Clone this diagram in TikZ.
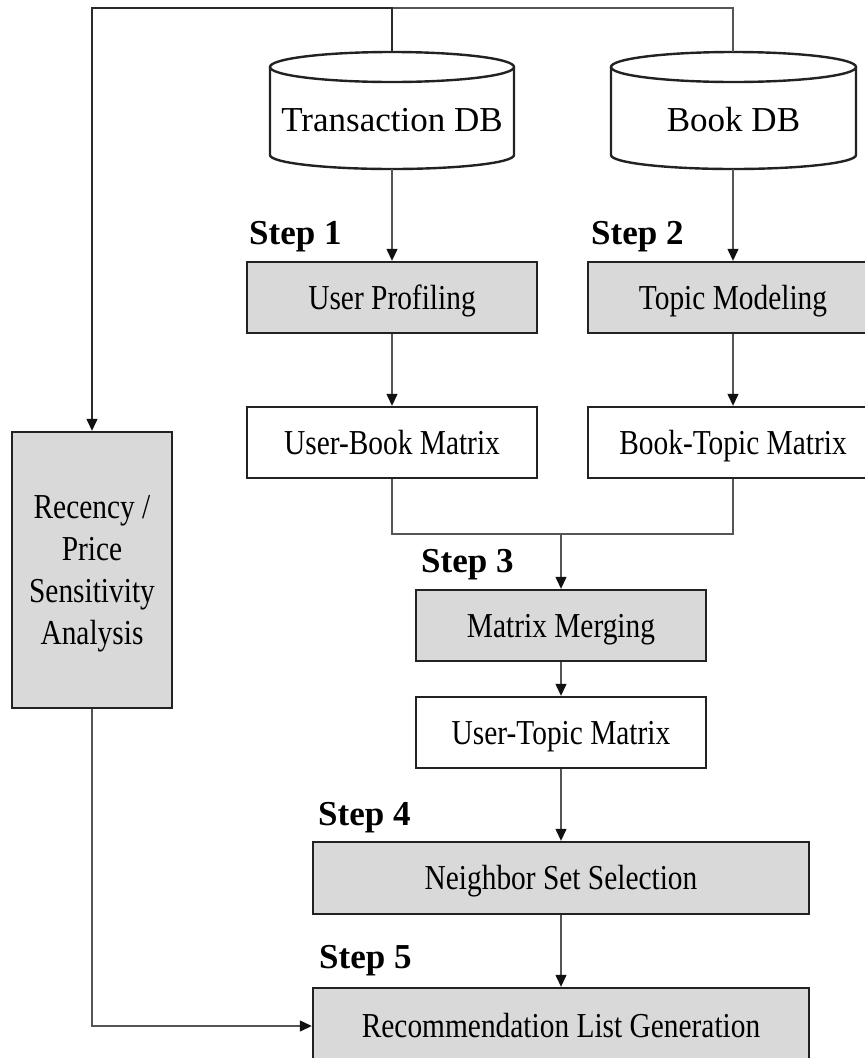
\documentclass[tikz,border=0pt]{standalone}
\usepackage{fontspec}
\setmainfont{Liberation Serif}
\newfontfamily\condfont[FakeStretch=0.84]{Liberation Serif}
\usetikzlibrary{arrows.meta}
\definecolor{boxgray}{HTML}{D9D9D9}
\definecolor{linegray}{HTML}{555555}
\definecolor{edgedark}{HTML}{222222}
\definecolor{tipdark}{HTML}{111111}
\tikzset{
  boxbase/.style={draw=edgedark, line width=2.4pt, minimum width=290pt, minimum height=71pt,
    inner sep=0pt, text height=30pt, text depth=7pt,
    font=\condfont\fontsize{35}{42.3}\selectfont},
  graybox/.style={boxbase, fill=boxgray},
  whitebox/.style={boxbase, fill=white},
  conn/.style={draw=linegray, line width=1.3pt},
  arr/.style={conn, -{Triangle[length=12pt,width=11pt,color=tipdark]}},
  cyl/.style={draw=edgedark, line width=2.4pt, fill=white},
  steplabel/.style={anchor=base west, inner sep=0pt, font=\bfseries\fontsize{35}{40}\selectfont},
  dblabel/.style={anchor=base, inner sep=0pt, font=\fontsize{35}{40}\selectfont}
}
\begin{document}
\begin{tikzpicture}[x=1pt,y=-1pt]
\useasboundingbox (0,0) rectangle (865,1058);
\clip (0,0) rectangle (865,1058);
\fill[white] (0,0) rectangle (865,1058);

% cylinders
\draw[cyl] (270,67) -- (270,155) arc[start angle=180, end angle=360, x radius=122pt, y radius=14pt] -- (514,67);
\draw[cyl] (392,67) ellipse [x radius=122pt, y radius=15pt];
\draw[cyl] (611,67) -- (611,155) arc[start angle=180, end angle=360, x radius=122.5pt, y radius=14pt] -- (856,67);
\draw[cyl] (733.5,67) ellipse [x radius=122.5pt, y radius=15pt];
\node[dblabel] (tdb) at (392,131) {Transaction DB};
\node[dblabel] (bdb) at (733.5,131) {Book DB};
\coordinate (tdbtop) at (392,52);
\coordinate (tdbbot) at (392,169);
\coordinate (bdbtop) at (733,52);
\coordinate (bdbbot) at (733,169);

% boxes
\node[graybox] (up) at (392,297.5) {User Profiling};
\node[graybox] (tm) at (733,297.5) {Topic Modeling};
\node[whitebox] (ubm) at (392,442.5) {User-Book Matrix};
\node[whitebox] (btm) at (733,442.5) {Book-Topic Matrix};
\node[graybox] (mm) at (561,625.5) {Matrix Merging};
\node[whitebox] (utm) at (561,732.5) {User-Topic Matrix};
\node[graybox, minimum width=496pt, minimum height=72pt] (nss) at (561,878) {Neighbor Set Selection};
\node[graybox, minimum width=496pt, minimum height=76pt] (rlg) at (561,1026) {Recommendation List Generation};
\node[graybox, minimum width=160pt, minimum height=276pt, align=center, text height=, text depth=0pt,
  font=\condfont\fontsize{35}{42.3}\selectfont] (rec) at (92,570) {Recency /\\Price\\Sensitivity\\Analysis};

% step labels
\node[steplabel] (s1) at (249,244) {Step 1};
\node[steplabel] (s2) at (591,244) {Step 2};
\node[steplabel] (s3) at (421,572) {Step 3};
\node[steplabel] (s4) at (318,825) {Step 4};
\node[steplabel] (s5) at (319,968) {Step 5};

% connectors
\coordinate (topj) at (392,8);
\coordinate (topl) at (92,8);
\coordinate (mj) at (561,534);
\draw[conn] (bdbtop) |- (topj);
\draw[arr, draw=edgedark!85!linegray] (tdbtop) |- (topl) -- (rec.north);
\draw[arr] (tdbbot) -- (up.north);
\draw[arr] (bdbbot) -- (tm.north);
\draw[arr] (up.south) -- (ubm.north);
\draw[arr] (tm.south) -- (btm.north);
\draw[conn] (ubm.south) |- (mj);
\draw[conn] (btm.south) |- (mj);
\draw[arr] (mj) -- (mm.north);
\draw[arr] (mm.south) -- (utm.north);
\draw[arr] (utm.south) -- (nss.north);
\draw[arr] (nss.south) -- (rlg.north);
\draw[arr] (rec.south) |- (rlg.west);
\end{tikzpicture}
\end{document}
